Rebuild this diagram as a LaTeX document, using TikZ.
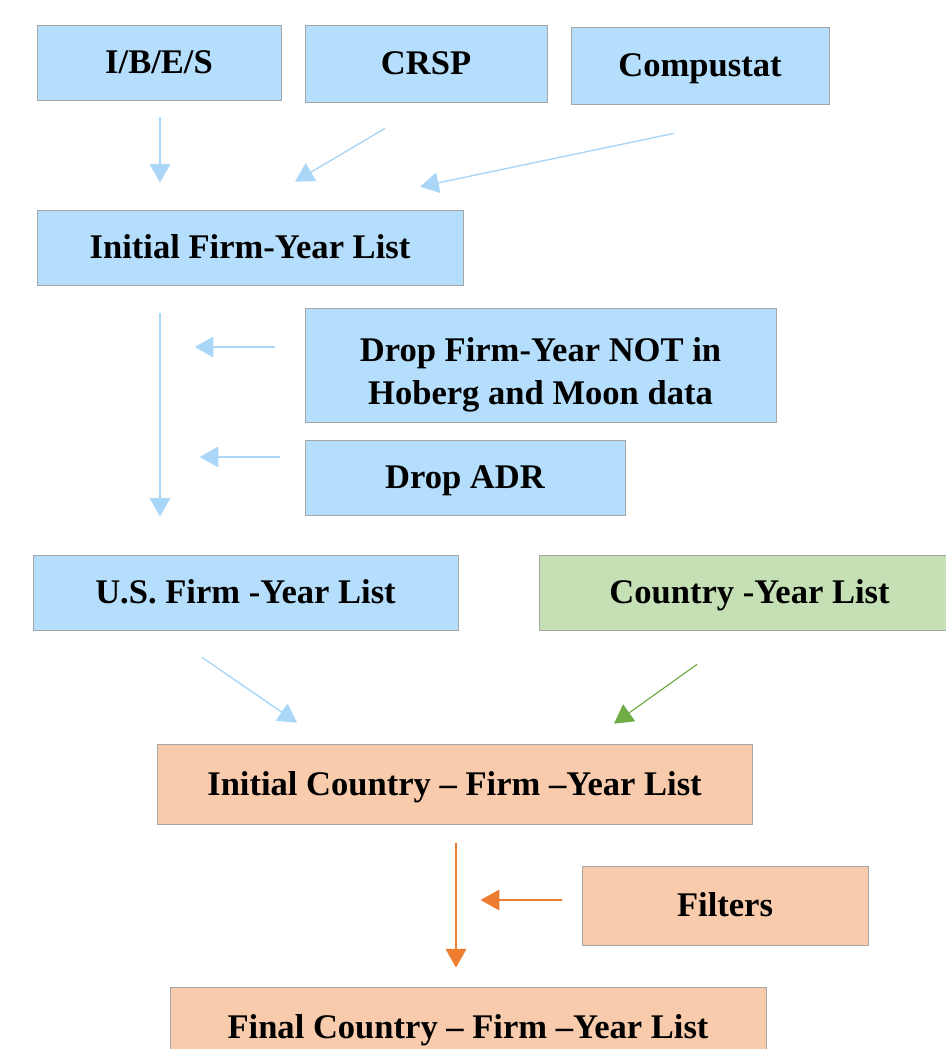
\documentclass[tikz,border=0pt]{standalone}
\usepackage{fontspec}
\setmainfont{Liberation Serif}
\usepackage{xcolor}
\usetikzlibrary{arrows.meta,calc,positioning}
\definecolor{boxblue}{RGB}{180,222,252}
\definecolor{boxgreen}{RGB}{197,224,180}
\definecolor{boxorange}{RGB}{248,203,173}
\definecolor{boxline}{RGB}{166,166,166}
\definecolor{arrblue}{RGB}{170,214,248}
\definecolor{arrgreen}{RGB}{112,173,71}
\definecolor{arrorange}{RGB}{237,125,49}

\begin{document}
\begin{tikzpicture}[x=0.03cm,y=-0.03cm,>={Triangle[length=0.56cm,width=0.62cm]},
   box/.style={draw=boxline,line width=0.6pt,inner sep=0pt,align=center,
      font=\fontsize{29.5}{36.5}\selectfont\bfseries},
   one/.style={text height=26pt,text depth=6.5pt},
   blue/.style={box,fill=boxblue},
   green/.style={box,fill=boxgreen},
   orange/.style={box,fill=boxorange},
   barr/.style={->,draw=arrblue,fill=arrblue,line width=1.2pt},
   garr/.style={->,draw=arrgreen,fill=arrgreen,line width=1pt},
   oarr/.style={->,draw=arrorange,fill=arrorange,line width=1pt}]
   \useasboundingbox (0,0) rectangle (945,1049);
   \node[blue,one,minimum width=7.32cm,minimum height=2.25cm] (ibes) at (159,62.5) {I/B/E/S};
   \node[blue,one,minimum width=7.26cm,minimum height=2.31cm] (crsp) at (426,63.5) {CRSP};
   \node[blue,one,minimum width=7.74cm,minimum height=2.31cm] (comp) at (700,65.5) {Compustat};
   \node[blue,one,minimum width=12.78cm,minimum height=2.25cm] (init) at (250,247.5) {Initial Firm-Year List};
   \node[blue,minimum width=14.13cm,minimum height=3.42cm] (drop) at (540.5,365) {\rule{0pt}{1.3cm}Drop Firm-Year NOT in\\Hoberg and Moon data};
   \node[blue,one,minimum width=9.6cm,minimum height=2.25cm] (adr) at (465,477.5) {Drop ADR};
   \node[blue,one,minimum width=12.75cm,minimum height=2.25cm] (us) at (245.5,592.5) {U.S. Firm -Year List};
   \node[green,one,minimum width=12.63cm,minimum height=2.25cm] (cy) at (749.5,592.5) {Country -Year List};
   \node[orange,one,minimum width=17.85cm,minimum height=2.4cm] (ic) at (454.5,784) {Initial Country -- Firm --Year List};
   \node[orange,one,minimum width=8.58cm,minimum height=2.37cm] (filt) at (725,905.5) {Filters};
   \node[orange,one,minimum width=17.88cm,minimum height=2.4cm] (fin) at (468,1027) {Final Country -- Firm --Year List};
   \draw[barr] ($(ibes.south)+(1,17)$) -- ($(init.north)+(-90,-27)$);
   \draw[barr] ($(crsp.south)+(-41,26)$) -- ($(init.north)+(45,-28)$);
   \draw[barr] ($(comp.south)+(-26,29)$) -- ($(init.north)+(170,-23)$);
   \draw[barr] ($(init.south)+(-90,28)$) -- ($(us.north)+(-85.5,-38)$);
   \draw[barr] ($(drop.west)+(-30,-18)$) -- ($(drop.west)+(-110,-18)$);
   \draw[barr] ($(adr.west)+(-25,-20.5)$) -- ($(adr.west)+(-105,-20.5)$);
   \draw[barr] ($(us.south)+(-43.5,27)$) -- ($(ic.north)+(-157.5,-21)$);
   \draw[garr] ($(cy.south)+(-52.5,34)$) -- ($(ic.north)+(159.5,-20)$);
   \draw[oarr] ($(ic.south)+(1.5,19)$) -- ($(fin.north)+(-12,-19)$);
   \draw[oarr] ($(filt.west)+(-20,-5.5)$) -- ($(filt.west)+(-101,-5.5)$);
\end{tikzpicture}
\end{document}
